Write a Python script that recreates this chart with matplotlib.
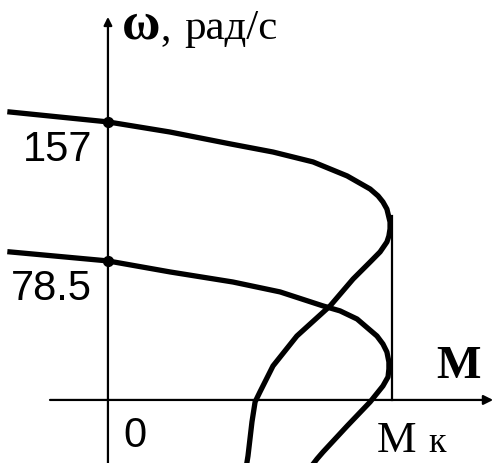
import matplotlib
matplotlib.use("Agg")
import matplotlib.pyplot as plt

# ---- data (M in units of Mk, omega in rad/s) ----
mk = 1.0
omega_levels = [157, 78.5]
omega_labels = ["157", "78.5"]

m_upper = [-0.345, 0.0, 0.218, 0.430, 0.581, 0.722, 0.842, 0.923, 0.951, 0.968, 0.982,
           0.993, 0.993, 0.989, 0.982, 0.958, 0.923, 0.863, 0.782, 0.665, 0.581, 0.535,
           0.518, 0.507, 0.493, 0.489]
w_upper = [162.6, 157.0, 151.3, 144.6, 140.0, 134.4, 126.5, 119.1, 115.2, 111.8, 107.8,
           100.5, 96.6, 92.6, 89.2, 83.6, 77.9, 68.3, 53.1, 36.1, 19.2, 4.5,
           -1.1, -12.4, -31.6, -35.6]

m_lower = [-0.345, 0.0, 0.218, 0.440, 0.606, 0.757, 0.817, 0.877, 0.947, 0.968, 0.982,
           0.989, 0.989, 0.986, 0.968, 0.923, 0.842, 0.757, 0.736, 0.725]
w_lower = [83.6, 78.5, 72.3, 66.6, 61.0, 53.1, 50.3, 45.7, 36.1, 31.6, 27.1,
           21.5, 17.5, 13.0, 7.9, -1.1, -14.7, -29.4, -33.3, -35.6]

mk_line_top = 103.9

fig = plt.figure(figsize=(4.94, 4.64), dpi=100)
ax = fig.add_axes([0, 0, 1, 1])
ax.set_xlim(-0.380, 1.359)
ax.set_ylim(-35.6, 226.4)
ax.axis("off")

# axes with arrows
ax.annotate("", xy=(1.356, 0), xytext=(-0.204, 0),
            arrowprops=dict(arrowstyle="-|>", lw=1.6, color="black",
                            mutation_scale=14, shrinkA=0, shrinkB=0))
ax.annotate("", xy=(0, 216.3), xytext=(0, -35.6),
            arrowprops=dict(arrowstyle="-|>", lw=1.6, color="black",
                            mutation_scale=12, shrinkA=0, shrinkB=0))

# Mk vertical line
ax.plot([mk, mk], [0, mk_line_top], color="black", lw=1.6)

# characteristics
ax.plot(m_upper, w_upper, color="black", lw=3.8, solid_joinstyle="round")
ax.plot(m_lower, w_lower, color="black", lw=3.8, solid_joinstyle="round")

# points on the omega axis
ax.scatter([0, 0], omega_levels, s=50, color="black", zorder=5)

num_font = ["Liberation Sans", "DejaVu Sans"]
for lvl, lab in zip(omega_levels, omega_labels):
    ax.text(-0.056, lvl - 15.3, lab, ha="right", va="center",
            fontsize=30, family=num_font)

ax.text(0.053, -19.8, "0", ha="left", va="center", fontsize=30, family=num_font)

serif = ["Liberation Serif", "DejaVu Serif"]
ax.text(0.947, -28.8, "M", ha="left", va="baseline", fontsize=32, family=serif)
ax.text(1.127, -28.8, "к", ha="left", va="baseline", fontsize=26, family=serif)
ax.text(1.155, 13.0, "M", ha="left", va="baseline", fontsize=34,
        family=serif, fontweight="bold")

ax.text(0.050, 204.4, "ω", ha="left", va="baseline", fontsize=38,
        family=serif, fontweight="bold")
ax.text(0.185, 204.4, ",", ha="left", va="baseline", fontsize=30, family=serif)
ax.text(0.270, 204.4, "рад/с", ha="left", va="baseline", fontsize=31,
        family=serif)

fig.savefig("out.png", dpi=100)
